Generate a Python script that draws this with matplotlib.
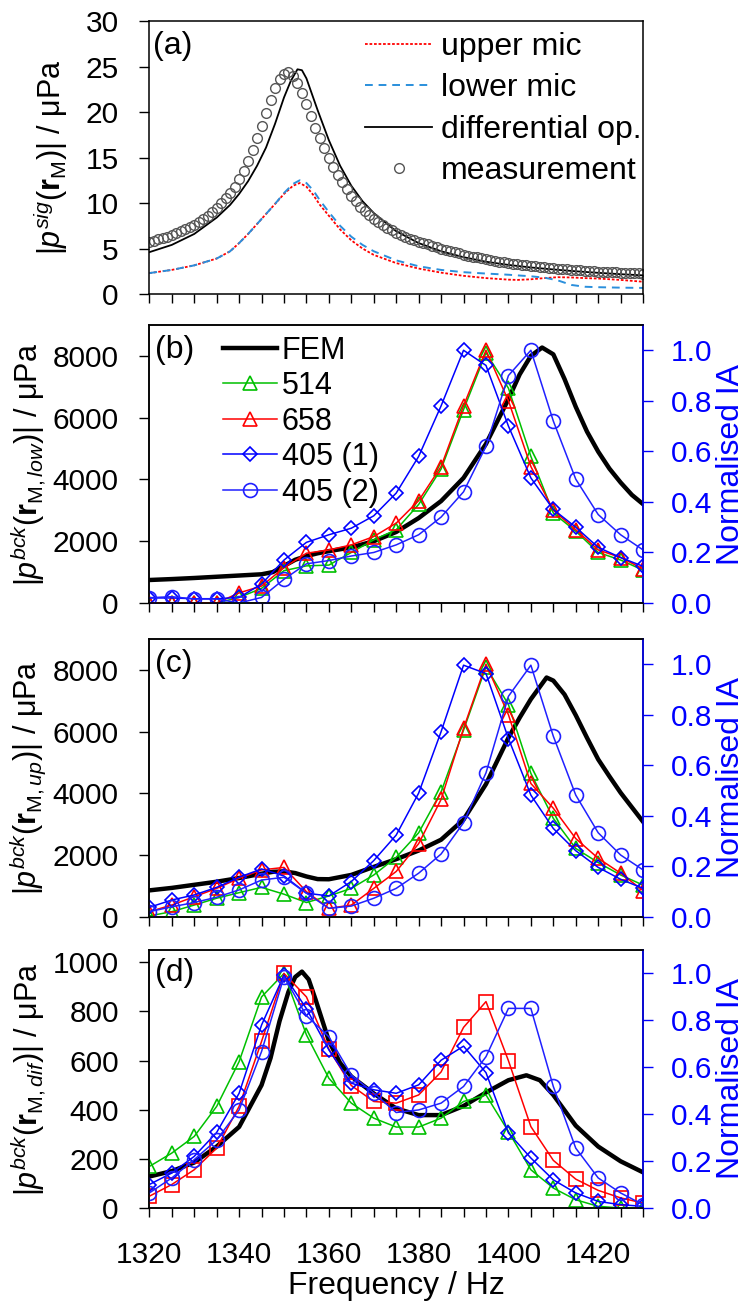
import matplotlib
matplotlib.use("Agg")
import matplotlib.pyplot as plt
from matplotlib.ticker import MultipleLocator, FormatStrFormatter

plt.rcParams['font.family'] = ['Liberation Sans', 'DejaVu Sans']
plt.rcParams['mathtext.fontset'] = 'custom'
plt.rcParams['mathtext.rm'] = 'Liberation Sans'
plt.rcParams['mathtext.it'] = 'Liberation Sans:italic'
plt.rcParams['mathtext.bf'] = 'Liberation Sans:bold'
plt.rcParams['font.size'] = 21.5

#=========================================================#
# panel (a): signal at the microphones
meas_freq = [1320, 1321, 1322, 1323, 1324, 1325, 1326, 1327, 1328, 1329,
             1330, 1331, 1332, 1333, 1334, 1335, 1336, 1337, 1338, 1339,
             1340, 1341, 1342, 1343, 1344, 1345, 1346, 1347, 1348, 1349,
             1350, 1351, 1352, 1353, 1354, 1355, 1356, 1357, 1358, 1359,
             1360, 1361, 1362, 1363, 1364, 1365, 1366, 1367, 1368, 1369,
             1370, 1371, 1372, 1373, 1374, 1375, 1376, 1377, 1378, 1379,
             1380, 1381, 1382, 1383, 1384, 1385, 1386, 1387, 1388, 1389,
             1390, 1391, 1392, 1393, 1394, 1395, 1396, 1397, 1398, 1399,
             1400, 1401, 1402, 1403, 1404, 1405, 1406, 1407, 1408, 1409,
             1410, 1411, 1412, 1413, 1414, 1415, 1416, 1417, 1418, 1419,
             1420, 1421, 1422, 1423, 1424, 1425, 1426, 1427, 1428, 1429,
             1430]
measurement = [5.70, 5.85, 6.00, 6.15, 6.30, 6.50, 6.70, 6.90, 7.10, 7.35,
               7.60, 7.90, 8.25, 8.60, 9.00, 9.45, 9.95, 10.50, 11.10, 11.80,
               12.60, 13.50, 14.60, 15.80, 17.10, 18.50, 19.90, 21.30, 22.60, 23.60,
               24.20, 24.40, 24.00, 23.20, 22.10, 20.90, 19.60, 18.30, 17.10, 16.00,
               15.00, 14.00, 13.10, 12.30, 11.50, 10.80, 10.20, 9.60, 9.10, 8.70,
               8.30, 7.90, 7.60, 7.30, 7.00, 6.75, 6.50, 6.30, 6.10, 5.90,
               5.75, 5.60, 5.45, 5.30, 5.15, 5.00, 4.85, 4.70, 4.58, 4.46,
               4.34, 4.23, 4.12, 4.02, 3.92, 3.83, 3.74, 3.65, 3.57, 3.49,
               3.42, 3.35, 3.28, 3.21, 3.15, 3.09, 3.03, 2.98, 2.93, 2.88,
               2.83, 2.79, 2.75, 2.71, 2.67, 2.63, 2.59, 2.56, 2.53, 2.50,
               2.47, 2.44, 2.41, 2.39, 2.37, 2.35, 2.33, 2.31, 2.29, 2.27,
               2.25]

diff_freq = [1320, 1325, 1330, 1335, 1338, 1340, 1342, 1344, 1346, 1348, 1350,
             1351.5, 1353, 1354, 1355, 1356, 1357.5, 1360, 1362.5, 1365, 1367.5,
             1370, 1375, 1380, 1385, 1390, 1395, 1400, 1405, 1410, 1415, 1420,
             1425, 1430]
diff_op = [4.6, 5.4, 6.6, 8.4, 9.8, 11.0, 12.4, 14.1, 16.1, 18.7, 21.6,
           23.4, 24.7, 24.6, 23.7, 22.3, 20.2, 16.9, 14.1, 11.9, 10.2,
           8.9, 6.9, 5.6, 4.7, 4.05, 3.55, 3.2, 2.92, 2.7, 2.5, 2.33,
           2.18, 2.05]

mic_freq = [1320, 1325, 1330, 1335, 1338, 1340, 1342, 1344, 1346, 1348, 1350,
            1352, 1353.5, 1355, 1356.5, 1358, 1360, 1362.5, 1365, 1367.5, 1370,
            1375, 1380, 1385, 1390, 1395, 1400, 1402, 1405, 1408, 1411, 1414,
            1417, 1420, 1425, 1430]
upper_mic = [2.3, 2.65, 3.15, 3.9, 4.7, 5.6, 6.6, 7.7, 8.8, 9.9, 11.0,
             11.9, 12.2, 11.8, 10.9, 9.8, 8.6, 7.1, 5.9, 5.0, 4.3,
             3.4, 2.8, 2.35, 2.0, 1.75, 1.58, 1.55, 1.62, 1.75, 1.85, 1.82,
             1.75, 1.7, 1.55, 1.35]
lower_mic = [2.3, 2.65, 3.15, 3.9, 4.7, 5.6, 6.6, 7.7, 8.8, 9.9, 11.1,
             12.1, 12.5, 12.2, 11.4, 10.3, 9.0, 7.5, 6.3, 5.4, 4.7,
             3.7, 3.05, 2.65, 2.4, 2.25, 2.12, 2.05, 1.95, 1.8, 1.5, 1.0,
             0.8, 0.75, 0.7, 0.67]

#=========================================================#
# panels (b)-(d): measured frequencies and normalised IA
freq = [1320, 1325, 1330, 1335, 1340, 1345, 1350, 1355, 1360, 1365, 1370, 1375,
        1380, 1385, 1390, 1395, 1400, 1405, 1410, 1415, 1420, 1425, 1430]

# (b) lower mic
s514_b = [0.0, 0.0, 0.0, 0.0, 0.022, 0.058, 0.128, 0.147, 0.15, 0.20, 0.25, 0.29,
          0.39, 0.53, 0.765, 0.99, 0.85, 0.58, 0.356, 0.284, 0.20, 0.17, 0.13]
s658_b = [0.0, 0.0, 0.0, 0.0, 0.04, 0.067, 0.14, 0.197, 0.21, 0.23, 0.263, 0.316,
          0.405, 0.54, 0.78, 1.0, 0.80, 0.54, 0.367, 0.29, 0.21, 0.18, 0.135]
s405a_b = [0.02, 0.02, 0.017, 0.017, 0.022, 0.075, 0.17, 0.24, 0.27, 0.296, 0.345, 0.435,
           0.58, 0.78, 1.0, 0.94, 0.70, 0.495, 0.37, 0.30, 0.22, 0.18, 0.145]
s405b_b = [0.021, 0.025, 0.016, 0.016, 0.0, 0.022, 0.094, 0.155, 0.168, 0.186, 0.2, 0.23,
           0.27, 0.34, 0.44, 0.62, 0.90, 1.0, 0.72, 0.49, 0.35, 0.27, 0.21]
fem_b_freq = [1320, 1325, 1330, 1335, 1340, 1345, 1347.5, 1350, 1352.5, 1355, 1357.5,
              1360, 1365, 1370, 1375, 1380, 1385, 1390, 1395, 1400, 1402.5, 1405,
              1407.5, 1410, 1412.5, 1415, 1417.5, 1420, 1422.5, 1425, 1427.5, 1430]
fem_b = [745, 775, 810, 850, 890, 930, 1000, 1200, 1400, 1520, 1610,
         1680, 1800, 2000, 2300, 2750, 3300, 4050, 5150, 6600, 7400, 8000,
         8270, 8050, 7250, 6350, 5550, 4900, 4350, 3900, 3500, 3200]

# (c) upper mic
s514_c = [0.004, 0.021, 0.047, 0.074, 0.096, 0.117, 0.09, 0.057, 0.083, 0.113, 0.166, 0.236,
          0.333, 0.495, 0.739, 0.99, 0.84, 0.568, 0.39, 0.271, 0.215, 0.166, 0.126]
s658_c = [0.021, 0.047, 0.08, 0.113, 0.153, 0.186, 0.196, 0.10, 0.034, 0.047, 0.113, 0.18,
          0.29, 0.465, 0.746, 1.0, 0.80, 0.528, 0.43, 0.31, 0.232, 0.173, 0.104]
s405a_c = [0.038, 0.067, 0.087, 0.117, 0.157, 0.19, 0.162, 0.094, 0.083, 0.14, 0.223, 0.324,
           0.49, 0.733, 0.996, 0.963, 0.706, 0.482, 0.35, 0.262, 0.196, 0.149, 0.113]
s405b_c = [0.021, 0.04, 0.057, 0.078, 0.107, 0.146, 0.157, 0.094, 0.034, 0.043, 0.074, 0.113,
           0.173, 0.249, 0.373, 0.57, 0.873, 0.996, 0.715, 0.482, 0.333, 0.245, 0.186]
fem_c_freq = [1320, 1325, 1330, 1335, 1340, 1345, 1347.5, 1350, 1352.5, 1355, 1357.5,
              1360, 1365, 1370, 1375, 1380, 1385, 1390, 1395, 1400, 1402.5, 1405,
              1408.5, 1410, 1412.5, 1415, 1417.5, 1420, 1422.5, 1425, 1427.5, 1430]
fem_c = [860, 940, 1040, 1140, 1260, 1400, 1460, 1475, 1420, 1310, 1225,
         1220, 1360, 1620, 1870, 2150, 2500, 3150, 4300, 5800, 6450, 7050,
         7750, 7650, 7200, 6530, 5800, 5100, 4550, 4020, 3550, 3080]

# (d) differential
s514_d = [0.177, 0.234, 0.305, 0.433, 0.624, 0.90, 1.0, 0.738, 0.553, 0.447, 0.383, 0.345,
          0.345, 0.383, 0.454, 0.482, 0.326, 0.163, 0.085, 0.035, 0.007, 0.0, 0.0]
s658_d = [0.05, 0.10, 0.163, 0.255, 0.433, 0.71, 1.0, 0.90, 0.677, 0.522, 0.454, 0.447,
          0.482, 0.58, 0.77, 0.88, 0.628, 0.347, 0.203, 0.123, 0.075, 0.043, 0.021]
s405a_d = [0.10, 0.149, 0.22, 0.322, 0.489, 0.78, 0.993, 0.85, 0.674, 0.532, 0.504, 0.489,
           0.525, 0.63, 0.69, 0.577, 0.32, 0.213, 0.12, 0.064, 0.028, 0.014, 0.007]
s405b_d = [0.064, 0.128, 0.206, 0.29, 0.418, 0.667, 0.986, 0.82, 0.73, 0.567, 0.49, 0.407,
           0.418, 0.447, 0.518, 0.645, 0.851, 0.851, 0.518, 0.255, 0.128, 0.064, 0.014]
fem_d_freq = [1320, 1325, 1330, 1335, 1340, 1345, 1347, 1349, 1351, 1352.5, 1354,
              1355.5, 1357, 1360, 1362.5, 1365, 1370, 1375, 1380, 1385, 1390, 1395,
              1400, 1404, 1407, 1410, 1415, 1420, 1425, 1430]
fem_d = [128, 150, 185, 250, 330, 500, 610, 760, 880, 940, 962,
         930, 850, 680, 590, 535, 466, 405, 378, 378, 415, 470,
         520, 540, 520, 460, 335, 250, 190, 145]

#=========================================================#

GREEN = '#00c000'
RED = '#ff0000'
BLUE1 = '#0000ff'
BLUE2 = '#2020ff'
LABEL_FS = 23

fig = plt.figure(figsize=(7.47, 13.01), dpi=100)
L, W = 0.1999, 0.661
ax_a = fig.add_axes([L, 0.7740, W, 0.2098])
ax_b = fig.add_axes([L, 0.5365, W, 0.2137])
ax_c = fig.add_axes([L, 0.2952, W, 0.2137])
ax_d = fig.add_axes([L, 0.0715, W, 0.1983])


def style_axes(ax, show_xlabels):
    ax.set_xlim(1320, 1430)
    ax.xaxis.set_major_locator(MultipleLocator(20))
    ax.xaxis.set_minor_locator(MultipleLocator(5))
    ax.tick_params(axis='x', which='both', direction='out', length=6.5, width=1,
                   pad=17, labelbottom=show_xlabels)
    ax.tick_params(axis='y', direction='out', length=7, width=1, pad=15)
    for sp in ax.spines.values():
        sp.set_linewidth(1.1)


def add_right(ax):
    axr = ax.twinx()
    axr.set_ylim(0, 1.1)
    axr.yaxis.set_major_locator(MultipleLocator(0.2))
    axr.yaxis.set_major_formatter(FormatStrFormatter('%.1f'))
    axr.tick_params(axis='y', direction='out', length=7, width=1, pad=13,
                    colors='blue', labelcolor='blue')
    for sp in axr.spines.values():
        sp.set_linewidth(1.1)
    axr.spines['right'].set_color('blue')
    axr.set_ylabel('Normalised IA', color='blue', fontsize=LABEL_FS)
    axr.yaxis.set_label_coords(1.148, 0.5)
    return axr


# ---- (a) ----
style_axes(ax_a, False)
ax_a.set_ylim(0, 30)
ax_a.yaxis.set_major_locator(MultipleLocator(5))
ax_a.plot(mic_freq, upper_mic, color=RED, lw=1.3, linestyle=(0, (1.5, 1)), label='upper mic')
ax_a.plot(mic_freq, lower_mic, color='#2a8fdc', lw=1.4, linestyle=(0, (4, 3)), label='lower mic')
ax_a.plot(diff_freq, diff_op, color='black', lw=1.3, label='differential op.')
ax_a.plot(meas_freq, measurement, 'o', ms=7, mfc='none', mec='#555555', mew=1.0,
          label='measurement')
ax_a.legend(loc='upper left', bbox_to_anchor=(0.437, 0.96), frameon=False, borderpad=0,
            borderaxespad=0, handlelength=2.1, handletextpad=0.28, labelspacing=0.36,
            fontsize=23)
ax_a.set_ylabel(r'$|p^{sig}(\mathbf{r}_{\mathrm{M}})|$ / μPa', fontsize=22)
ax_a.yaxis.set_label_coords(-0.16, 0.5)
ax_a.text(0.008, 0.91, '(a)', transform=ax_a.transAxes, ha='left', va='center',
          fontsize=23)


def exp_panel(ax, fem_f, fem_v, s514, s658, s405a, s405b, red_marker, ylim, ystep,
              ylabel, tag, show_xlabels, legend=False):
    style_axes(ax, show_xlabels)
    ax.set_ylim(0, ylim)
    ax.yaxis.set_major_locator(MultipleLocator(ystep))
    fem_line, = ax.plot(fem_f, fem_v, color='black', lw=3.2, label='FEM')
    ax.set_ylabel(ylabel, fontsize=22)
    ax.yaxis.set_label_coords(-0.205, 0.5)
    ax.text(0.012, 0.91, tag, transform=ax.transAxes, ha='left', va='center',
            fontsize=23)
    axr = add_right(ax)
    h1, = axr.plot(freq, s514, color=GREEN, marker='^', ms=10, mfc='none', mew=1.2,
                   lw=1.1, label='514')
    h2, = axr.plot(freq, s658, color=RED, marker=red_marker, ms=10, mfc='none', mew=1.2,
                   lw=1.1, label='658')
    h3, = axr.plot(freq, s405a, color=BLUE1, marker='D', ms=7.5, mfc='none', mew=1.2,
                   lw=1.1, label='405 (1)')
    h4, = axr.plot(freq, s405b, color=BLUE2, marker='o', ms=10, mfc='none', mew=1.2,
                   lw=1.1, label='405 (2)')
    if legend:
        axr.legend(handles=[fem_line, h1, h2, h3, h4], loc='upper left',
                   bbox_to_anchor=(0.149, 0.962), frameon=False, borderpad=0,
                   borderaxespad=0, handlelength=1.76, handletextpad=0.16,
                   labelspacing=0.18, fontsize=22, numpoints=1)
    return axr


exp_panel(ax_b, fem_b_freq, fem_b, s514_b, s658_b, s405a_b, s405b_b, '^', 9000, 2000,
          r'$|p^{bck}(\mathbf{r}_{\mathrm{M},low})|$ / μPa', '(b)', False, legend=True)
exp_panel(ax_c, fem_c_freq, fem_c, s514_c, s658_c, s405a_c, s405b_c, '^', 9000, 2000,
          r'$|p^{bck}(\mathbf{r}_{\mathrm{M},up})|$ / μPa', '(c)', False)
exp_panel(ax_d, fem_d_freq, fem_d, s514_d, s658_d, s405a_d, s405b_d, 's', 1050, 200,
          r'$|p^{bck}(\mathbf{r}_{\mathrm{M},dif})|$ / μPa', '(d)', True)
ax_d.set_xlabel('Frequency / Hz', labelpad=2, fontsize=LABEL_FS)

plt.savefig('out.png', dpi=100)
